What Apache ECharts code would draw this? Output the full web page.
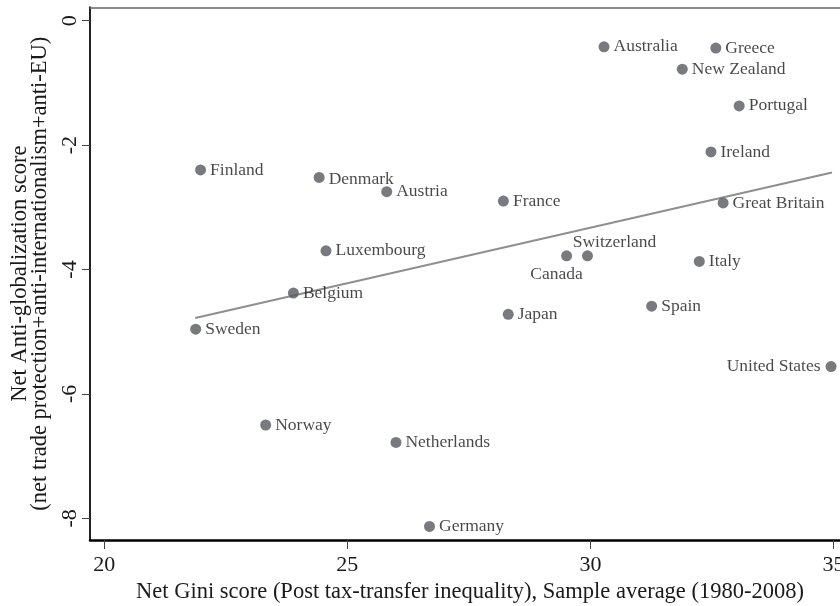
<!DOCTYPE html>
<html>
<head>
<meta charset="utf-8">
<script src="https://cdn.jsdelivr.net/npm/echarts@6/dist/echarts.min.js"></script>
<style>
html,body{margin:0;padding:0;background:#fff;}
#chart{width:840px;height:606px;}
</style>
</head>
<body>
<div id="chart"></div>
<script>
// ---- data ----
const countries = ["Australia","Greece","New Zealand","Portugal","Ireland","Great Britain",
  "Canada","Switzerland","Italy","France","Finland","Denmark","Austria","Luxembourg",
  "Belgium","Sweden","Norway","Netherlands","Germany","Japan","Spain","United States"];
const giniValues = [30.28,32.58,31.89,33.06,32.48,32.73,
  29.51,29.94,32.24,28.21,21.98,24.42,25.81,24.56,
  23.89,21.88,23.32,26.00,26.69,28.31,31.26,34.95];
const antiGlobValues = [-0.42,-0.44,-0.78,-1.37,-2.11,-2.93,
  -3.78,-3.78,-3.87,-2.90,-2.40,-2.52,-2.75,-3.70,
  -4.38,-4.96,-6.50,-6.78,-8.13,-4.72,-4.59,-5.56];
const fitX = [21.87, 34.97];
const fitY = [-4.78, -2.44];
const xTicks = [20, 25, 30, 35];
const yTicks = [-8, -6, -4, -2, 0];

// ---- label placement ----
const serif = "'Liberation Serif','Times New Roman',serif";
const special = {
  "Canada": {position: 'inside', offset: [-10, 19]},
  "Switzerland": {position: 'inside', offset: [27, -13]},
  "United States": {position: 'left', distance: 5},
  "Denmark": {position: 'right', distance: 4, offset: [0, 2]}
};
const points = countries.map((c, i) => {
  const lab = Object.assign({show: true, position: 'right', distance: 4}, special[c] || {});
  return {name: c, value: [giniValues[i], antiGlobValues[i]], label: lab};
});

const chart = echarts.init(document.getElementById('chart'), null, {renderer: 'canvas'});
chart.setOption({
  animation: false,
  backgroundColor: '#fff',
  grid: {left: 90, top: 7.3, bottom: 66, right: -10, containLabel: false, outerBoundsMode: 'none'},
  xAxis: [{
    type: 'value', min: 19.706, max: 35.34,
    name: 'Net Gini score (Post tax-transfer inequality), Sample average (1980-2008)',
    nameLocation: 'middle', nameGap: 39,
    nameTextStyle: {fontFamily: serif, fontSize: 22.5, color: '#1a1a1a'},
    axisLine: {show: true, onZero: false, lineStyle: {color: '#000', width: 2.5}},
    axisTick: {show: true, length: 9, customValues: xTicks, lineStyle: {color: '#444', width: 1}},
    axisLabel: {customValues: xTicks, fontFamily: serif, fontSize: 22, color: '#1a1a1a', margin: 14},
    splitLine: {show: false}
  }, {
    type: 'value', position: 'top', min: 19.706, max: 35.34,
    axisLine: {show: true, onZero: false, lineStyle: {color: '#666', width: 1.5}},
    axisTick: {show: false}, axisLabel: {show: false}, splitLine: {show: false}
  }],
  yAxis: {
    type: 'value', min: -8.349, max: 0.215,
    name: 'Net Anti-globalization score\n(net trade protection+anti-internationalism+anti-EU)',
    nameLocation: 'middle', nameGap: 39.5, nameRotate: 90,
    nameTextStyle: {fontFamily: serif, fontSize: 22.5, color: '#1a1a1a', lineHeight: 20},
    axisLine: {show: true, onZero: false, lineStyle: {color: '#222', width: 2}},
    axisTick: {show: true, length: 8, customValues: yTicks, lineStyle: {color: '#444', width: 1}},
    axisLabel: {customValues: yTicks, rotate: 90, fontFamily: serif, fontSize: 22, color: '#1a1a1a', margin: 9},
    splitLine: {show: false}
  },
  series: [{
    type: 'line',
    data: fitX.map((x, i) => [x, fitY[i]]),
    showSymbol: false, symbol: 'none',
    lineStyle: {color: '#8f8f8f', width: 2},
    z: 1, silent: true
  }, {
    type: 'scatter',
    data: points,
    symbolSize: 11,
    itemStyle: {color: '#58595c'},
    label: {
      formatter: p => p.name,
      fontFamily: serif, fontSize: 17.5, color: '#1a1a1a'
    },
    z: 2
  }]
});
</script>
</body>
</html>
